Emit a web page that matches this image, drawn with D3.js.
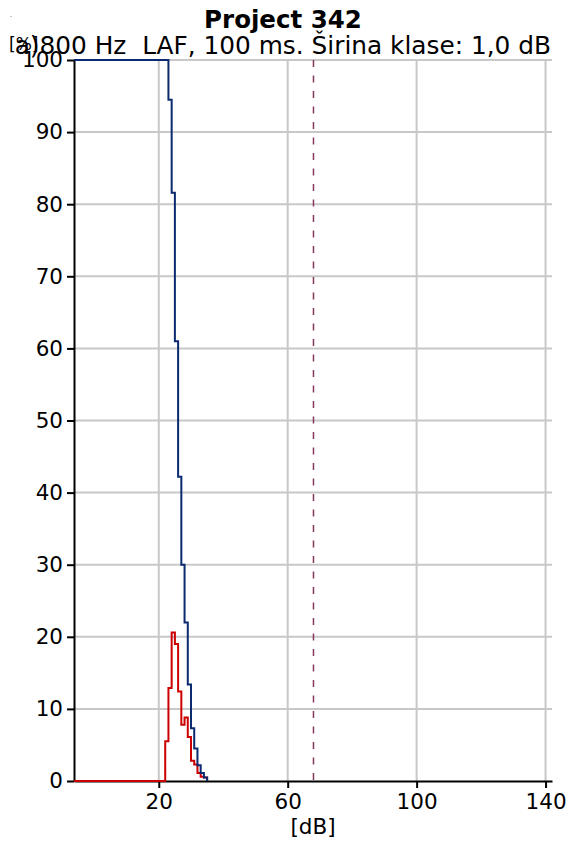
<!DOCTYPE html>
<html>
<head>
<meta charset="utf-8">
<script src="https://cdn.jsdelivr.net/npm/d3@7"></script>
<style>
  html, body { margin: 0; padding: 0; background: #fff; }
  svg { display: block; }
  text { font-family: "DejaVu Sans", Verdana, sans-serif; fill: #000; white-space: pre; }
</style>
</head>
<body>
<svg id="chart" width="566" height="841"></svg>
<script>
// Level distribution, 1 dB classes
const titleText = "Project 342";
const subtitleText = "a)800 Hz  LAF, 100 ms. Širina klase: 1,0 dB";
const yLabel = "[%]";
const xLabel = "[dB]";

// Class lower edges [dB] and share of samples in each class [%]
const classEdges = [22, 23, 24, 25, 26, 27, 28, 29, 30, 31, 32, 33, 34];
const classPct   = [5.5, 12.9, 20.6, 19.0, 12.4, 7.8, 8.8, 6.1, 2.8, 2.3, 1.1, 0.6, 0.5];

// Cumulative curve: level edges [dB] and percent of samples above [%]
const cumEdges = [23, 24, 25, 26, 27, 28, 29, 30, 31, 32, 33, 34];
const cumPct   = [94.5, 81.6, 61.0, 42.2, 30.0, 22.0, 13.4, 7.3, 4.5, 2.2, 1.1, 0.5];
const curveEnd = 35;

// Marker level [dB]
const markerLevel = 68;

const xTicks = [20, 60, 100, 140];
const yTicks = [0, 10, 20, 30, 40, 50, 60, 70, 80, 90, 100];

const svg = d3.select("#chart");
const plotL = 74, plotR = 552, plotT = 60, plotB = 781;
const xDomain = [-6.3, 142];

const x = d3.scaleLinear().domain(xDomain).range([plotL, plotR]);
const y = d3.scaleLinear().domain([0, 100]).range([plotB, plotT]);

// grid
const grid = svg.append("g").attr("stroke", "#c8c8c8").attr("stroke-width", 2);
grid.selectAll("line.h").data(yTicks.filter(d => d > 0)).join("line")
  .attr("class", "h")
  .attr("x1", plotL).attr("x2", plotR)
  .attr("y1", d => y(d)).attr("y2", d => y(d));
grid.selectAll("line.v").data(xTicks).join("line")
  .attr("class", "v")
  .attr("x1", d => x(d)).attr("x2", d => x(d))
  .attr("y1", plotT).attr("y2", plotB);

// marker line
svg.append("line")
  .attr("x1", x(markerLevel)).attr("x2", x(markerLevel))
  .attr("y1", plotT).attr("y2", plotB)
  .attr("stroke", "#86395f").attr("stroke-width", 1.5)
  .attr("stroke-dasharray", "7,8.5");

// axes
const yAxis = svg.append("g").attr("transform", `translate(${plotL},0)`)
  .call(d3.axisLeft(y).tickValues(yTicks).tickSize(7).tickSizeOuter(0).tickPadding(4));
const xAxis = svg.append("g").attr("transform", `translate(0,${plotB})`)
  .call(d3.axisBottom(x).tickValues(xTicks).tickSize(7).tickSizeOuter(0).tickPadding(6));
[yAxis, xAxis].forEach(a => {
  a.select(".domain").attr("stroke", "#000").attr("stroke-width", 2);
  a.selectAll(".tick line").attr("stroke", "#000").attr("stroke-width", 2);
  a.selectAll(".tick text").attr("font-size", 21.5).attr("fill", "#000")
    .attr("font-family", "DejaVu Sans, Verdana, sans-serif");
});

const stepLine = d3.line().x(d => x(d[0])).y(d => y(d[1])).curve(d3.curveStepAfter);

// class histogram
const histPts = [[xDomain[0], 0]]
  .concat(classEdges.map((e, i) => [e, classPct[i]]))
  .concat([[curveEnd, 0]]);
svg.append("path").attr("d", stepLine(histPts))
  .attr("fill", "none").attr("stroke", "#cc0000").attr("stroke-width", 2);

// cumulative curve
const cumPts = [[xDomain[0], 100]]
  .concat(cumEdges.map((e, i) => [e, cumPct[i]]))
  .concat([[curveEnd, 0]]);
svg.append("path").attr("d", stepLine(cumPts))
  .attr("fill", "none").attr("stroke", "#0b2a6f").attr("stroke-width", 2);

// titles
svg.append("text").attr("x", 283).attr("y", 28).attr("text-anchor", "middle")
  .attr("font-size", 24.5).attr("font-weight", "bold").text(titleText);
svg.append("text").attr("x", 551).attr("y", 54).attr("text-anchor", "end")
  .attr("font-size", 24.8).text(subtitleText);
svg.append("text").attr("x", 9).attr("y", 50)
  .attr("font-size", 17).text(yLabel);
svg.append("text").attr("x", 10).attr("y", 17)
  .attr("font-size", 6).text(".");
svg.append("text").attr("x", (plotL + plotR) / 2).attr("y", 834).attr("text-anchor", "middle")
  .attr("font-size", 21.5).text(xLabel);
</script>
</body>
</html>
